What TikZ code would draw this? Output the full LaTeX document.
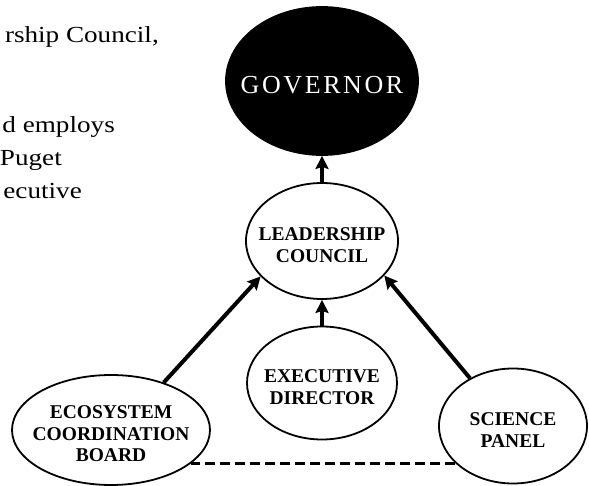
\documentclass[tikz,border=0pt]{standalone}
\usepackage{fontspec}
\setmainfont{Liberation Serif}
\usetikzlibrary{shapes.geometric,arrows.meta}

\begin{document}
\begin{tikzpicture}[x=1pt, y=-1pt,
		bubble/.style={ellipse, draw, line width=1.8pt, inner sep=0pt},
		lbl/.style={align=center, font=\fontsize{19.5}{21.5}\selectfont\bfseries, yshift=-4pt},
		prose/.style={anchor=base east, inner sep=0pt, font=\fontsize{23}{26}\selectfont\addfontfeature{FakeStretch=1.18}},
		arr/.style={line width=4pt, -{Stealth[length=13pt, width=13pt, inset=2pt]}}]
	\useasboundingbox (0,0) rectangle (589,486);

	\node [prose] (prose1) at (159,43) {rship Council,};
	\node [prose] (prose2) at (115,133) {d employs};
	\node [prose] (prose3) at (62,166) {Puget};
	\node [prose] (prose4) at (82,199) {ecutive};

	\node [bubble, fill=black, minimum width=192pt, minimum height=148pt,
		label={[lbl, text=white, font=\fontsize{26}{28}\selectfont\addfontfeature{LetterSpace=10}]center:GOVERNOR}] (gov) at (322,81) {};
	\node [bubble, minimum width=152pt, minimum height=116pt,
		label={[lbl]center:LEADERSHIP\\COUNCIL}] (lead) at (322,241) {};
	\node [bubble, minimum width=150pt, minimum height=113pt,
		label={[lbl]center:EXECUTIVE\\DIRECTOR}] (exec) at (322,383) {};
	\node [bubble, minimum width=198pt, minimum height=110pt,
		label={[lbl]center:ECOSYSTEM\\COORDINATION\\BOARD}] (eco) at (111,430) {};
	\node [bubble, minimum width=148pt, minimum height=115pt,
		label={[lbl]center:SCIENCE\\PANEL}] (sci) at (513,426) {};

	\begin{scope}[arr]
		\draw (lead.north) -- (gov.south);
		\draw (exec.north) -- (lead.south);
		\draw (eco.42) -- (lead.210);
		\draw (sci.132) -- (lead.331);
	\end{scope}

	\draw [line width=3.5pt, dash pattern=on 10pt off 5pt] (sci.213) -- (sci.213 -| eco.337);

\end{tikzpicture}
\end{document}
